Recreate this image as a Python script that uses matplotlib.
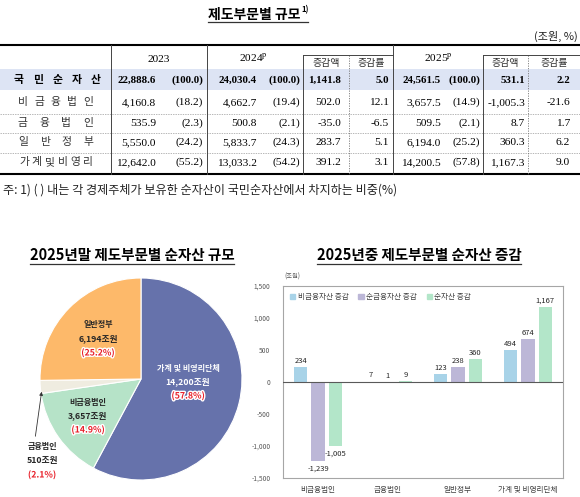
import matplotlib
matplotlib.use("Agg")
import matplotlib.pyplot as plt
import matplotlib.patheffects as pe
from matplotlib.patches import Rectangle, Patch
import numpy as np

plt.rcParams['font.family'] = ['Noto Sans CJK KR', 'DejaVu Sans']
plt.rcParams['mathtext.fontset'] = 'stix'
plt.rcParams['axes.unicode_minus'] = False

# ---- table data (조원, %)
row_names = ["국민순자산", "비금융법인", "금융법인", "일반정부", "가계및비영리"]
v2023 = [22888.6, 4160.8, 535.9, 5550.0, 12642.0]
s2023 = [100.0, 18.2, 2.3, 24.2, 55.2]
v2024 = [24030.4, 4662.7, 500.8, 5833.7, 13033.2]
s2024 = [100.0, 19.4, 2.1, 24.3, 54.2]
d2024 = [1141.8, 502.0, -35.0, 283.7, 391.2]
r2024 = [5.0, 12.1, -6.5, 5.1, 3.1]
v2025 = [24561.5, 3657.5, 509.5, 6194.0, 14200.5]
s2025 = [100.0, 14.9, 2.1, 25.2, 57.8]
d2025 = [531.1, -1005.3, 8.7, 360.3, 1167.3]
r2025 = [2.2, -21.6, 1.7, 6.2, 9.0]

# ---- pie data (2025년말)
pie_names = ["가계 및 비영리단체", "비금융법인", "금융법인", "일반정부"]
pie_values = [14200, 3657, 510, 6194]
pie_pct = [57.8, 14.9, 2.1, 25.2]
pie_colors = ["#6672ab", "#b6e3c8", "#efece0", "#fdb96a"]

# ---- bar data (2025년중 증감)
bar_cats = ["비금융법인", "금융법인", "일반정부", "가계 및 비영리단체"]
nonfin = [234, 7, 123, 494]
netfin = [-1239, 1, 238, 674]
netasset = [-1005, 9, 360, 1167]
bar_names = ["비금융자산 증감", "순금융자산 증감", "순자산 증감"]
bar_colors = ["#a8d3e8", "#bcb7d7", "#b3e6c9"]

W, H = 580, 497
fig = plt.figure(figsize=(5.8, 4.97), dpi=100)

# ================= pie =================
pcx, pcy, pr = 141, 379, 101
axp = fig.add_axes([(pcx - pr) / W, 1 - (pcy + pr) / H, 2 * pr / W, 2 * pr / H])
axp.pie(pie_values, colors=pie_colors, startangle=90, counterclock=False,
        radius=1, wedgeprops=dict(edgecolor='white', linewidth=0.8))
axp.set_xlim(-1, 1)
axp.set_ylim(-1, 1)

# ================= bars =================
axb = fig.add_axes([283 / W, 1 - 478 / H, 280 / W, 192 / H])
x = np.arange(len(bar_cats))
bw, off = 0.19, 0.247
for i, (vals, name, col) in enumerate(zip([nonfin, netfin, netasset], bar_names, bar_colors)):
    xs = x + (i - 1) * off
    axb.bar(xs, vals, bw, color=col, label=name, zorder=2)
    for xx, v in zip(xs, vals):
        if v >= 0:
            axb.text(xx, v + 35, f"{v:,}", ha='center', va='bottom', fontsize=5.5, color='#262626')
        else:
            axb.text(xx, v - 45, f"{v:,}", ha='center', va='top', fontsize=5.5, color='#262626')
axb.axhline(0, color='#595959', lw=0.8, zorder=3)
axb.set_ylim(-1500, 1500)
axb.set_xlim(-0.5, 3.5)
yt = list(range(-1500, 1501, 500))
axb.set_yticks(yt)
axb.set_yticklabels([f"{t:,}" for t in yt], fontsize=4.8, color='#595959')
axb.set_xticks(x)
axb.set_xticklabels(bar_cats, fontsize=5.5, color='#404040')
axb.tick_params(axis='y', length=0, pad=9)
axb.tick_params(axis='x', length=0, pad=6)
for sp in axb.spines.values():
    sp.set_color('#a6a6a6')
    sp.set_linewidth(0.8)
handles = [Patch(color=c, label=n) for c, n in zip(bar_colors, bar_names)]
axb.legend(handles=handles, loc='upper left', ncol=3, frameon=False, fontsize=5.5,
           handlelength=0.7, handleheight=0.7, handletextpad=0.3, columnspacing=1.3,
           borderaxespad=0.5, labelcolor='#404040')

# ================= overlay (pixel coords) =================
ov = fig.add_axes([0, 0, 1, 1], zorder=5)
ov.set_xlim(0, W)
ov.set_ylim(H, 0)
ov.axis('off')
ov.patch.set_alpha(0)

serif = ['Liberation Serif', 'DejaVu Serif']

# title
t_main = ov.text(208, 15, "제도부문별 규모", fontsize=10, fontweight='bold', ha='left', va='center')
ov.text(578, 36, "(조원, %)", fontsize=8, ha='right', va='center', color='#222222')

# table frame
ov.add_patch(Rectangle((0, 69), W, 21, color='#dde4f4', lw=0, zorder=0))
ov.plot([0, W], [45, 45], color='black', lw=1.5)
ov.plot([0, W], [174, 174], color='black', lw=1.5)
for yy in [113.5, 133, 152.5]:
    ov.plot([0, W], [yy, yy], color='#9a9a9a', lw=0.5, ls=(0, (2, 1.5)))
for xx in [111, 207, 393]:
    ov.plot([xx, xx], [45, 174], color='#444444', lw=0.7)
for xx in [303, 483]:
    ov.plot([xx, xx], [55, 174], color='#444444', lw=0.7)
for xx in [349, 528]:
    ov.plot([xx, xx], [55, 174], color='#777777', lw=0.6, ls=(0, (1.5, 1.5)))
ov.plot([303, 393], [55, 55], color='#444444', lw=0.7)
ov.plot([483, W], [55, 55], color='#444444', lw=0.7)

# header
ov.text(159, 59, "2023", fontsize=8.2, family=serif, ha='center', va='center')
ov.text(253, 58, r"2024$^{\mathrm{p}}$", fontsize=8.2, family=serif, ha='center', va='center')
ov.text(438, 58, r"2025$^{\mathrm{p}}$", fontsize=8.2, family=serif, ha='center', va='center')
for xc in [326, 505]:
    ov.text(xc, 63, "증감액", fontsize=7.2, ha='center', va='center', color='#333333')
for xc in [371, 554]:
    ov.text(xc, 63, "증감률", fontsize=7.2, ha='center', va='center', color='#333333')

# rows
row_y = [80, 102, 123, 142, 162]
label_span = [(19, 96), (23, 88), (23, 88), (23, 88), (24, 88)]
for k, name in enumerate(row_names):
    bold = 'bold' if k == 0 else 'normal'
    col = 'black' if k == 0 else '#333333'
    y = row_y[k]
    a, b = label_span[k]
    cx = np.linspace(a, b, len(name))
    for ch, xx in zip(name, cx):
        ov.text(xx, y, ch, fontsize=7.8, fontweight=bold, ha='center', va='center', color=col)
    cells = [
        (156, f"{v2023[k]:,.1f}"), (203, f"({s2023[k]:.1f})"),
        (257, f"{v2024[k]:,.1f}"), (300, f"({s2024[k]:.1f})"),
        (341, f"{d2024[k]:,.1f}"), (389, f"{r2024[k]:.1f}"),
        (441, f"{v2025[k]:,.1f}"), (480, f"({s2025[k]:.1f})"),
        (525, f"{d2025[k]:,.1f}"), (570, f"{r2025[k]:.1f}"),
    ]
    fs = 7.8 if k == 0 else 8.2
    for xx, s in cells:
        ov.text(xx, y + 0.5, s, fontsize=fs, family=serif, fontweight=bold,
                ha='right', va='center', color='black')

ov.text(3, 190, "주: 1) ( ) 내는 각 경제주체가 보유한 순자산이 국민순자산에서 차지하는 비중(%)",
        fontsize=8.7, ha='left', va='center', color='#222222')

# section titles
t_left = ov.text(132, 255, "2025년말 제도부문별 순자산 규모", fontsize=10.5, fontweight='bold',
                 ha='center', va='center')
t_right = ov.text(419, 255, "2025년중 제도부문별 순자산 증감", fontsize=10.5, fontweight='bold',
                  ha='center', va='center')
ov.text(284, 277, "(조원)", fontsize=4.5, ha='left', va='center', color='#595959')

# pie labels
halo = [pe.withStroke(linewidth=2, foreground='white')]
pie_pos = [(188, 368, 'white'), (88, 402, '#262626'), (42, 447, '#262626'), (98, 325, '#262626')]
for (px, py, tc), name, val, pct in zip(pie_pos, pie_names, pie_values, pie_pct):
    ov.text(px, py, name, fontsize=5.8, fontweight='bold', ha='center', va='center', color=tc)
    ov.text(px, py + 14, f"{val:,}조원", fontsize=6.3, fontweight='bold', ha='center', va='center', color=tc)
    ov.text(px, py + 28, f"({pct}%)", fontsize=6.3, fontweight='bold', ha='center', va='center',
            color='#e8202a', path_effects=halo)
ov.annotate("", xy=(42, 389), xytext=(35, 439),
            arrowprops=dict(arrowstyle='-|>', color='#333333', lw=0.6, mutation_scale=5))

# underlines from text extents (and the 1) superscript after the main title)
fig.canvas.draw()
rend = fig.canvas.get_renderer()
inv = ov.transData.inverted()
bb = t_main.get_window_extent(renderer=rend)
mx1 = inv.transform((bb.x1, bb.y1))[0]
ov.text(mx1 + 1, 10, "1)", fontsize=5.5, fontweight='bold', ha='left', va='center')
for t, yy, extra in [(t_main, 22, 8), (t_left, 264, 0), (t_right, 264, 0)]:
    bb = t.get_window_extent(renderer=rend)
    (x0, _), (x1, _) = inv.transform([(bb.x0, bb.y0), (bb.x1, bb.y1)])
    ov.plot([x0, x1 + extra], [yy, yy], color='#333333', lw=0.9)

fig.savefig("out.png", dpi=100)
